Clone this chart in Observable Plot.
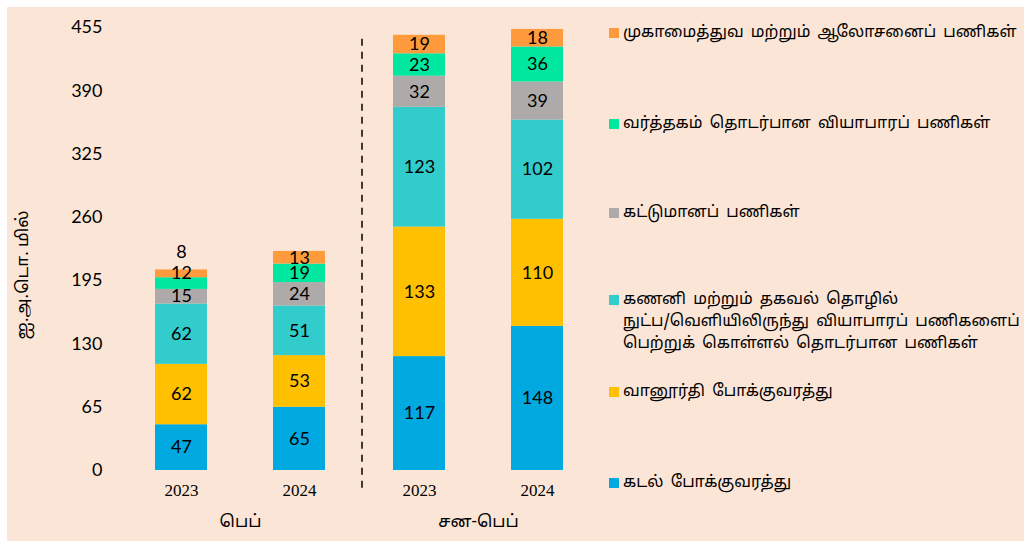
<!DOCTYPE html>
<html><head><meta charset="utf-8">
<script src="https://cdn.jsdelivr.net/npm/d3@7"></script>
<script src="https://cdn.jsdelivr.net/npm/@observablehq/plot@0.6"></script>
<style>
body{margin:0;background:#fff;}
#wrap{position:absolute;left:7px;top:7px;width:1017px;height:534px;background:#FBE5D6;overflow:hidden}
#chart{position:absolute;left:0;top:0}
.item{position:absolute;left:602px;display:flex;align-items:flex-start;font-family:"Noto Sans Tamil","Lohit Tamil","Latha","Noto Sans",sans-serif;font-size:16px;color:#000;white-space:pre;line-height:22px;word-spacing:3px}
.sw{width:10px;height:10px;margin-right:4px;margin-top:6px;flex:none}
</style></head><body><div id="wrap"><div id="chart"></div></div>
<script>
// ---- data ----
const categories = [
  "கடல் போக்குவரத்து",
  "வானூர்தி போக்குவரத்து",
  "கணனி மற்றும் தகவல் தொழில்\nநுட்ப/வெளியிலிருந்து வியாபாரப் பணிகளைப்\nபெற்றுக் கொள்ளல் தொடர்பான பணிகள்",
  "கட்டுமானப் பணிகள்",
  "வர்த்தகம் தொடர்பான வியாபாரப் பணிகள்",
  "முகாமைத்துவ மற்றும் ஆலோசனைப் பணிகள்"
];
const colors = ["#00A9E0", "#FFC000", "#33CCCC", "#AEAAAA", "#00E8A0", "#FF9A3D"];
const periods = ["பெப்", "சன-பெப்"];
const years = ["2023", "2024"];
const feb2023 = [47, 62, 62, 15, 12, 8];
const feb2024 = [65, 53, 51, 24, 19, 13];
const janFeb2023 = [117, 133, 123, 32, 23, 19];
const janFeb2024 = [148, 110, 102, 39, 36, 18];
const yTicks = [0, 65, 130, 195, 260, 325, 390, 455];
const yTitle = "ஐ.அ.டொ. மில்";

// ---- layout (not data) ----
const legendTops = [15, 106, 195, 282, 374, 465];
const tamilFont = '"Noto Sans Tamil","Lohit Tamil","Latha","Noto Sans",sans-serif';

const series = [
  [periods[0], years[0], feb2023],
  [periods[0], years[1], feb2024],
  [periods[1], years[0], janFeb2023],
  [periods[1], years[1], janFeb2024]
];
const rows = [];
for (const [p, yr, vals] of series) vals.forEach((v, i) => rows.push({period: p, year: yr, cat: categories[i], value: v}));

const stackOpts = {fx: "period", x: "year", y: "value", z: "cat", order: categories};
const lbl = d => String(d.value);

const plot = Plot.plot({
  width: 640, height: 534,
  marginLeft: 114, marginRight: 50, marginTop: 20, marginBottom: 71,
  style: {background: "transparent", fontFamily: "Lato, sans-serif", fontSize: "18px", color: "#000"},
  fx: {domain: periods, paddingInner: 0, paddingOuter: 0, label: null},
  x: {domain: years, paddingInner: 0.56, paddingOuter: 0.285, label: null},
  y: {domain: [0, 455], label: null},
  color: {domain: categories, range: colors},
  marks: [
    Plot.barY(rows, {...stackOpts, fill: "cat"}),
    Plot.text(rows, Plot.filter(d => d.value >= 13, Plot.stackY({...stackOpts, text: lbl, fontSize: 18, fill: "#000"}))),
    Plot.text(rows, Plot.filter(d => d.value >= 10 && d.value < 13, Plot.stackY({...stackOpts, text: lbl, fontSize: 18, fill: "#000", dy: -10}))),
    Plot.text(rows, Plot.filter(d => d.value < 10, Plot.stackY2({...stackOpts, text: lbl, fontSize: 18, fill: "#000", lineAnchor: "bottom", dy: -12}))),
    Plot.axisY({ticks: yTicks, tickSize: 0, tickPadding: 19, fontSize: 18, label: yTitle, labelAnchor: "center", labelOffset: 106, labelArrow: "none"}),
    Plot.axisX({tickSize: 0, tickPadding: 13, fontSize: 17}),
    Plot.axisFx({anchor: "bottom", tickSize: 0, tickPadding: 44, fontSize: 17, label: null})
  ]
});

document.getElementById("chart").appendChild(plot);
const svg = d3.select(plot);
// fonts: serif years, Tamil group labels and axis title
svg.selectAll('g[aria-label="x-axis tick label"] text').style("font-family", '"Liberation Serif", "Times New Roman", serif');
svg.selectAll('g[aria-label="fx-axis tick label"] text').style("font-family", tamilFont);
svg.selectAll('g[aria-label="y-axis label"] text').style("font-family", tamilFont).style("font-size", "17px").attr("dx", -26);

// dashed separator between the two period groups, from the library's scales
const fxs = plot.scale("fx"), ys = plot.scale("y");
const sepX = fxs.apply(periods[1]) + 3;
svg.append("line")
  .attr("x1", sepX).attr("x2", sepX)
  .attr("y1", ys.apply(443)).attr("y2", ys.apply(0) + 20)
  .attr("stroke", "#000").attr("stroke-width", 1.5).attr("stroke-dasharray", "7,6");

// legend
const wrap = document.getElementById("wrap");
const order = [5, 4, 3, 2, 1, 0];
order.forEach((ci, k) => {
  const it = document.createElement("div");
  it.className = "item";
  it.style.top = legendTops[k] + "px";
  const sw = document.createElement("div");
  sw.className = "sw";
  sw.style.background = colors[ci];
  const tx = document.createElement("div");
  tx.textContent = categories[ci];
  it.appendChild(sw); it.appendChild(tx);
  wrap.appendChild(it);
});
</script></body></html>
